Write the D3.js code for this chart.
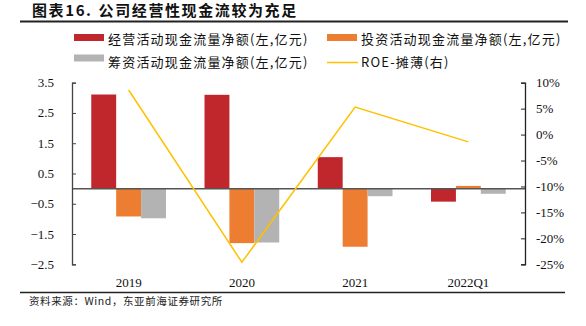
<!DOCTYPE html>
<html><head><meta charset="utf-8">
<script src="https://cdn.jsdelivr.net/npm/d3@7"></script>
<style>
body{margin:0;background:#fff;}
svg{display:block;}
</style></head>
<body>
<svg id="c" width="586" height="326"></svg>
<script>
const categories = ["2019", "2020", "2021", "2022Q1"];
const operating = [3.11, 3.10, 1.04, -0.43];
const investing = [-0.92, -1.80, -1.92, 0.09];
const financing = [-0.98, -1.78, -0.25, -0.17];
const roe = [8.6, -24.6, 5.3, -1.4];
const leftTicks = [3.5, 2.5, 1.5, 0.5, -0.5, -1.5, -2.5];
const rightTicks = [10, 5, 0, -5, -10, -15, -20, -25];
const seriesNames = ["经营活动现金流量净额(左,亿元)", "投资活动现金流量净额(左,亿元)", "筹资活动现金流量净额(左,亿元)", "ROE-摊薄(右)"];
const colors = ["#C0272D", "#ED7D31", "#B3B3B3", "#FFC000"];

const svg = d3.select("#c");
const serif = "'Liberation Serif','Times New Roman',serif";
const cjk = "'Noto Sans CJK SC',sans-serif";

// Title
const title = svg.append("text").attr("x", 32).attr("y", 16).attr("font-family", cjk)
  .attr("font-weight", "bold").attr("font-size", 15).attr("fill", "#111")
  .attr("letter-spacing", 1.6);
title.append("tspan").text("图表16.");
title.append("tspan").attr("dx", 6).text("公司经营性现金流较为充足");
svg.append("line").attr("x1", 20).attr("x2", 568).attr("y1", 21.5).attr("y2", 21.5)
  .attr("stroke", "#222").attr("stroke-width", 2);

const x0 = 72, x1 = 525, yTop = 82.7, yBot = 264.3;
const x = d3.scaleBand().domain(categories).range([x0, x1]).paddingInner(0.34).paddingOuter(0.17);
const yL = d3.scaleLinear().domain([-2.5, 3.5]).range([yBot, yTop]);
const yR = d3.scaleLinear().domain([-25, 10]).range([yBot, yTop]);

const xs = d3.scaleBand().domain([0, 1, 2]).range([0, x.bandwidth()]);
const data = [operating, investing, financing];

data.forEach((vals, si) => {
  svg.append("g").selectAll("rect").data(vals).join("rect")
    .attr("x", (d, i) => x(categories[i]) + xs(si))
    .attr("width", xs.bandwidth())
    .attr("y", d => yL(Math.max(0, d)))
    .attr("height", d => Math.abs(yL(d) - yL(0)))
    .attr("fill", colors[si]);
});

// zero line
svg.append("line").attr("x1", x0).attr("x2", x1).attr("y1", yL(0)).attr("y2", yL(0))
  .attr("stroke", "#555").attr("stroke-width", 1.5);

// ROE line
const line = d3.line().x((d, i) => x(categories[i]) + x.bandwidth() / 2).y(d => yR(d));
svg.append("path").datum(roe).attr("d", line).attr("fill", "none")
  .attr("stroke", colors[3]).attr("stroke-width", 1.5);

// Left axis
const gL = svg.append("g").attr("transform", `translate(${x0},0)`)
  .call(d3.axisRight(yL).tickValues(leftTicks).tickSize(4).tickFormat(() => ""));
gL.select(".domain").attr("stroke", "#444").attr("stroke-width", 1.3);
gL.selectAll(".tick line").attr("stroke", "#444");
svg.append("g").selectAll("text").data(leftTicks).join("text")
  .attr("x", 54).attr("y", d => yL(d) + 4.5).attr("text-anchor", "end")
  .attr("font-family", serif).attr("font-size", 13).attr("fill", "#111")
  .text(d => d3.format(".1f")(d));

// Right axis
const gR = svg.append("g").attr("transform", `translate(${x1},0)`)
  .call(d3.axisLeft(yR).tickValues(rightTicks).tickSize(4).tickFormat(() => ""));
gR.select(".domain").attr("stroke", "#222").attr("stroke-width", 1.3);
gR.selectAll(".tick line").attr("stroke", "#222");
svg.append("g").selectAll("text").data(rightTicks).join("text")
  .attr("x", 536).attr("y", d => yR(d) + 4.5).attr("text-anchor", "start")
  .attr("font-family", serif).attr("font-size", 13).attr("fill", "#111")
  .text(d => d + "%");

// X labels
svg.append("g").selectAll("text").data(categories).join("text")
  .attr("x", d => x(d) + x.bandwidth() / 2).attr("y", 287).attr("text-anchor", "middle")
  .attr("font-family", serif).attr("font-size", 13).attr("fill", "#111")
  .text(d => d);

// Legend
const leg = [
  {x: 74, y: 37.5, ty: 43.5, i: 0}, {x: 327, y: 37.5, ty: 43.5, i: 1},
  {x: 74, y: 58, ty: 66.5, i: 2}, {x: 327, y: 62.5, ty: 66.5, i: 3}
];
leg.forEach(l => {
  if (l.i < 3) {
    svg.append("rect").attr("x", l.x).attr("y", l.y - 3.5).attr("width", 30).attr("height", 7).attr("fill", colors[l.i]);
  } else {
    svg.append("line").attr("x1", l.x).attr("x2", l.x + 31).attr("y1", l.y).attr("y2", l.y)
      .attr("stroke", colors[3]).attr("stroke-width", 1.5);
  }
  svg.append("text").attr("x", l.x + 34).attr("y", l.ty)
    .attr("font-family", cjk).attr("font-size", 13).attr("fill", "#111")
    .attr("letter-spacing", 1.2)
    .text(seriesNames[l.i]);
});

// Bottom rule and source
svg.append("line").attr("x1", 20).attr("x2", 565).attr("y1", 292.5).attr("y2", 292.5)
  .attr("stroke", "#222").attr("stroke-width", 1.5);
svg.append("text").attr("x", 29).attr("y", 305)
  .attr("font-family", cjk).attr("font-size", 10.5).attr("fill", "#222")
  .attr("letter-spacing", 0.6)
  .text("资料来源：Wind，东亚前海证券研究所");
</script>
</body></html>
